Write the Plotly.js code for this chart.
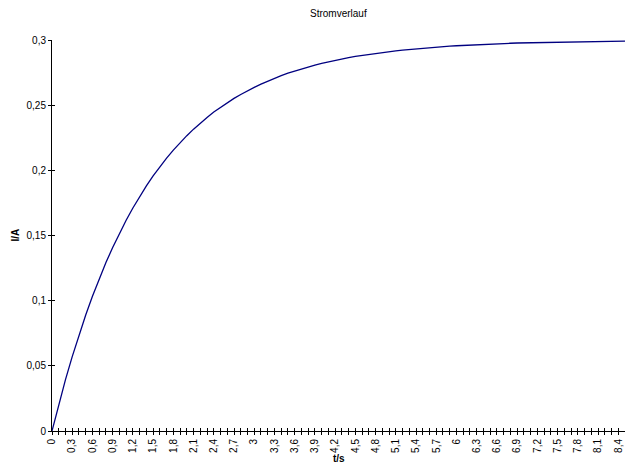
<!DOCTYPE html>
<html>
<head>
<meta charset="utf-8">
<script src="https://cdn.plot.ly/plotly-3.0.1.min.js"></script>
<style>html,body{margin:0;padding:0;background:#fff}#chart{width:625px;height:464px}</style>
</head>
<body>
<div id="chart"></div>
<script>
// Time in seconds
const time = [0,0.1,0.2,0.3,0.4,0.5,0.6,0.7,0.8,0.9,1,1.1,1.2,1.3,1.4,1.5,1.6,1.7,1.8,1.9,
  2,2.1,2.2,2.3,2.4,2.5,2.6,2.7,2.8,2.9,3,3.1,3.2,3.3,3.4,3.5,3.6,3.7,3.8,3.9,
  4,4.1,4.2,4.3,4.4,4.5,4.6,4.7,4.8,4.9,5,5.1,5.2,5.3,5.4,5.5,5.6,5.7,5.8,5.9,
  6,6.1,6.2,6.3,6.4,6.5,6.6,6.7,6.8,6.9,7,7.1,7.2,7.3,7.4,7.5,7.6,7.7,7.8,7.9,
  8,8.1,8.2,8.3,8.4,8.5];
// Current in amperes
const current = [0,0.0204,0.0394,0.0571,0.0736,0.0890,0.1034,0.1168,0.1292,0.1408,
  0.1517,0.1617,0.1711,0.1799,0.1881,0.1957,0.2028,0.2094,0.2155,0.2213,
  0.2266,0.2316,0.2363,0.2406,0.2447,0.2484,0.2519,0.2552,0.2582,0.2611,
  0.2637,0.2662,0.2685,0.2706,0.2726,0.2745,0.2762,0.2778,0.2794,0.2808,
  0.2821,0.2833,0.2844,0.2855,0.2865,0.2874,0.2882,0.2890,0.2898,0.2905,
  0.2911,0.2917,0.2923,0.2928,0.2933,0.2938,0.2942,0.2946,0.2950,0.2953,
  0.2956,0.2959,0.2962,0.2964,0.2967,0.2969,0.2971,0.2973,0.2975,0.2977,
  0.2978,0.2980,0.2981,0.2982,0.2984,0.2985,0.2986,0.2987,0.2988,0.2989,
  0.2989,0.2990,0.2991,0.2991,0.2992,0.2992];
const chartTitle = 'Stromverlauf';
const xTitle = 't/s';
const yTitle = 'I/A';

const FONT = 'Liberation Sans, Arial, sans-serif';
const xRange = [0, 8.5];
const yRange = [0, 0.3];

const data = [{
  x: time, y: current, type: 'scatter', mode: 'lines',
  line: {color: '#000080', width: 1.3}, hoverinfo: 'skip'
}, {
  x: time, y: current, xaxis: 'x2', yaxis: 'y2', type: 'scatter', mode: 'lines',
  line: {color: 'rgba(0,0,0,0)', width: 0}, hoverinfo: 'skip', showlegend: false
}];

const layout = {
  width: 625, height: 464,
  margin: {l: 52, r: 0, t: 40, b: 33},
  paper_bgcolor: '#fff', plot_bgcolor: '#fff',
  separators: ',.',
  showlegend: false,
  font: {family: FONT, size: 10, color: '#000'},
  xaxis: {
    range: xRange, tick0: 0, dtick: 0.3, tickangle: -90,
    ticks: 'outside', ticklen: 3, tickwidth: 1, tickcolor: '#000',
    minor: {dtick: 0.1, ticks: 'outside', ticklen: 3, tickwidth: 1, tickcolor: '#000'},
    showline: true, linecolor: '#000', linewidth: 1,
    showgrid: false, zeroline: false, fixedrange: true,
    tickfont: {family: FONT, size: 10, color: '#000'}
  },
  yaxis: {
    range: yRange, tick0: 0, dtick: 0.05,
    ticks: 'outside', ticklen: 3, tickwidth: 1, tickcolor: '#000',
    showline: true, linecolor: '#000', linewidth: 1,
    showgrid: false, zeroline: false, fixedrange: true,
    tickfont: {family: FONT, size: 10, color: '#000'}
  },
  xaxis2: {
    overlaying: 'x', anchor: 'y2', range: xRange, tick0: 0, dtick: 0.1,
    ticks: 'inside', ticklen: 3, tickwidth: 1, tickcolor: '#000',
    showticklabels: false, showline: false, showgrid: false, zeroline: false, fixedrange: true
  },
  yaxis2: {
    overlaying: 'y', anchor: 'x2', range: yRange, tick0: 0, dtick: 0.05,
    ticks: 'inside', ticklen: 3, tickwidth: 1, tickcolor: '#000',
    showticklabels: false, showline: false, showgrid: false, zeroline: false, fixedrange: true
  },
  annotations: [
    {text: chartTitle, xref: 'paper', yref: 'paper', x: 0.5, y: 1, yshift: 27,
     xanchor: 'center', yanchor: 'middle',
     showarrow: false, font: {family: FONT, size: 10, color: '#000'}},
    {text: '<b>' + xTitle + '</b>', xref: 'paper', yref: 'paper', x: 0.5, y: 0, yshift: -27,
     xanchor: 'center', yanchor: 'middle', borderpad: 0,
     showarrow: false, font: {family: FONT, size: 10, color: '#000'}},
    {text: '<b>' + yTitle + '</b>', xref: 'paper', yref: 'paper', x: 0, y: 0.5, xshift: -37,
     xanchor: 'center', yanchor: 'middle',
     textangle: -90, showarrow: false, font: {family: FONT, size: 10, color: '#000'}}
  ]
};

Plotly.newPlot('chart', data, layout, {displayModeBar: false, staticPlot: true});
</script>
</body>
</html>
